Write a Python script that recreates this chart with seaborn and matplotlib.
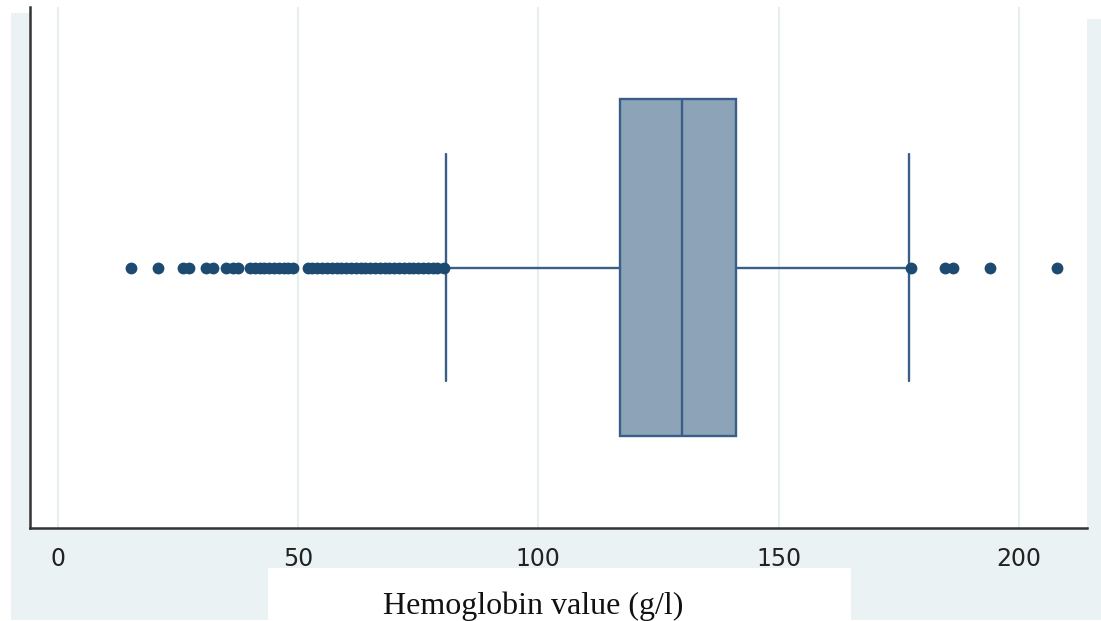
import numpy as np
import pandas as pd
import seaborn as sns
import matplotlib.pyplot as plt
from matplotlib.patches import Rectangle

# five values that set the box: lower adjacent, Q1, median, Q3, upper adjacent
box_values = [80.8, 117.0, 130.0, 141.2, 177.2]

# outside values
low_outliers = [15.2, 20.9, 26.0, 27.4, 30.8, 32.2, 35.0, 36.4, 37.4,
                40, 41, 42, 43, 44, 45, 46, 47, 48, 49,
                52, 53, 54, 55, 56, 57, 58, 59, 60, 61, 62, 63, 64, 65, 66,
                67, 68, 69, 70, 71, 72, 73, 74, 75, 76, 77, 78, 79, 80.3]
high_outliers = [177.6, 184.6, 186.3, 194.0, 207.9]

xticks = [0, 50, 100, 150, 200]

navy = "#1d4a70"
edge = "#3a5f87"
fill = "#8da3b8"
bg = "#eaf2f3"

sns.set_style("white")
plt.rcParams['font.family'] = ['DejaVu Sans']

W, H = 1101, 621
fig = plt.figure(figsize=(W / 100, H / 100), dpi=100, facecolor="white")

def px_rect(x0, y0, x1, y1, color):
    # rectangle in pixel coords (top-left origin) on the figure
    r = Rectangle((x0 / W, 1 - y1 / H), (x1 - x0) / W, (y1 - y0) / H,
                  transform=fig.transFigure, facecolor=color,
                  edgecolor="none", zorder=-5)
    fig.patches.append(r)

px_rect(11, 13, 30, 620, bg)
px_rect(1087, 19, 1101, 620, bg)
px_rect(11, 528, 1101, 620, bg)
px_rect(268, 568, 851, 621, "white")

ax = fig.add_axes([29.5 / W, 1 - 528 / H, (1087 - 29.5) / W, (528 - 7) / H])
ax.set_facecolor("white")

df = pd.DataFrame({"hb": box_values})
sns.boxplot(data=df, x="hb", ax=ax, width=0.647, color=fill, saturation=1,
            linecolor=edge, linewidth=1.7, whis=1.5, showfliers=False,
            capwidths=0.436)

out = pd.DataFrame({"hb": low_outliers + high_outliers})
sns.stripplot(data=out, x="hb", ax=ax, jitter=False, color=navy,
              size=8.5, linewidth=0, zorder=5)

ax.set_ylim(0.5, -0.5)
ax.set_xlim(-5.9, 214.2)
ax.set_xticks(xticks)
ax.set_yticks([])
ax.set_ylabel("")
ax.grid(axis="x", color="#e6eef0", linewidth=1.5)
ax.set_axisbelow(True)

for s in ["top", "right"]:
    ax.spines[s].set_visible(False)
for s in ["left", "bottom"]:
    ax.spines[s].set_color("#333333")
    ax.spines[s].set_linewidth(1.8)

ax.tick_params(axis="x", direction="out", length=7.5, width=1.6,
               color="#333333", pad=6, labelsize=17, labelcolor="#222222")

ax.set_xlabel("Hemoglobin value (g/l)", family="Liberation Serif",
              fontsize=23, color="#111111")
ax.xaxis.set_label_coords((533 - 29.5) / (1087 - 29.5), (528 - 606) / (528 - 7))
ax.xaxis.label.set_va("center")

fig.savefig("out.png", dpi=100, facecolor="white")
